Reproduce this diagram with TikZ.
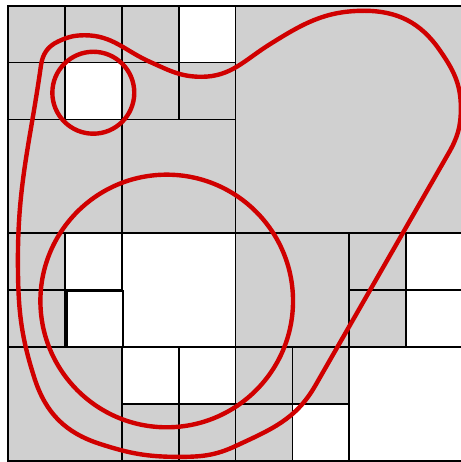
\documentclass[tikz,border=0pt]{standalone}
\usepackage{xcolor}
\usepackage{tikz}
\definecolor{CellGray}{HTML}{D0D0D0}
\definecolor{CurveRed}{HTML}{D00000}
\tikzset{
  greycell/.style={fill=CellGray,draw=black,line width=.9pt},
  whitecell/.style={fill=white,draw=black,line width=.9pt},
  curve/.style={draw=CurveRed,line width=2.2pt}
}

\begin{document}
\begin{tikzpicture}[x=1cm,y=1cm]
  \useasboundingbox (-0.14,-0.02) rectangle (7.962,8.10);
  \clip (-0.14,-0.02) rectangle (7.962,8.10);
  % quadtree leaves, lower left corner and size
  \filldraw[greycell] (0,7) rectangle ++(1,1) (1,7) rectangle ++(1,1) (0,6) rectangle ++(1,1)
    (2,7) rectangle ++(1,1) (2,6) rectangle ++(1,1) (3,6) rectangle ++(1,1)
    (0,4) rectangle ++(2,2) (2,4) rectangle ++(2,2) (4,4) rectangle ++(4,4);
  \filldraw[greycell] (0,3) rectangle ++(1,1) (0,2) rectangle ++(1,1) (0,0) rectangle ++(2,2)
    (2,0) rectangle ++(1,1) (3,0) rectangle ++(1,1);
  \filldraw[greycell] (4,2) rectangle ++(2,2) (6,3) rectangle ++(1,1) (6,2) rectangle ++(1,1)
    (4,1) rectangle ++(1,1) (5,1) rectangle ++(1,1) (4,0) rectangle ++(1,1);
  \filldraw[whitecell] (1,6) rectangle ++(1,1) (3,7) rectangle ++(1,1)
    (1,3) rectangle ++(1,1) (2,2) rectangle ++(2,2) (2,1) rectangle ++(1,1) (3,1) rectangle ++(1,1);
  \filldraw[whitecell] (7,3) rectangle ++(1,1) (7,2) rectangle ++(1,1)
    (5,0) rectangle ++(1,1) (6,0) rectangle ++(2,2);
  \filldraw[whitecell] (1.035,2) rectangle ++(0.98,0.99);

  % curves
  \draw[curve] (1.5,6.47) circle (0.72);
  \draw[curve] (2.79,2.81) circle (2.22);
  \draw[curve] (0.175,3.55) to[out=90,in=-98] (0.58,6.95) to[out=82,in=205] (0.88,7.37)
    to[out=25,in=180] (1.35,7.48) to[out=0,in=156] (2.5,7.01) to[out=-24,in=180] (3.4,6.75)
    to[out=0,in=-148] (4.6,7.32) to[out=32,in=180] (6.26,7.91) to[out=0,in=125] (7.58,7.23)
    to[out=-55,in=90] (7.96,6.2) to[out=-90,in=60] (7.74,5.4) -- (5.4,1.32)
    to[out=-120,in=25] (4.0,0.26) to[out=-155,in=0] (3.0,0.07) to[out=180,in=-18] (1.61,0.3)
    to[out=162,in=-72] (0.47,1.44) to[out=108,in=-90] cycle;
\end{tikzpicture}
\end{document}
